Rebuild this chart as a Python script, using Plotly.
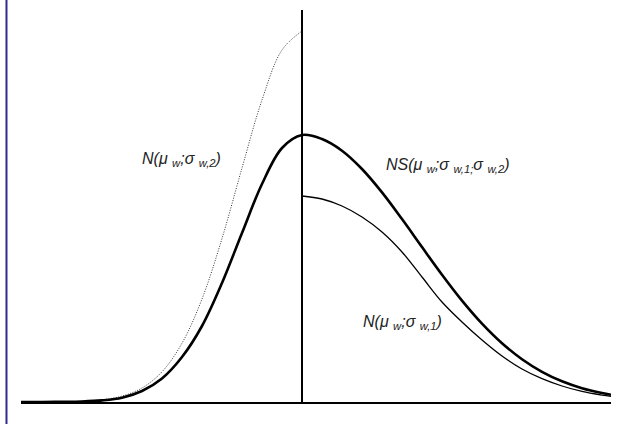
import plotly.graph_objects as go

# split normal sketch: values (x in units, mode at 0)
x_left = [-2.81, -2.6, -2.4, -2.2, -2.0, -1.8, -1.6, -1.4, -1.2, -1.0, -0.8, -0.6, -0.4, -0.2, 0.0]
x_right = [0.0, 0.2, 0.4, 0.6, 0.8, 1.0, 1.2, 1.4, 1.6, 1.8, 2.0, 2.2, 2.4, 2.6, 2.8, 3.0, 3.09]

n_sigma2 = [0.0, 0.0001, 0.0002, 0.0008, 0.0022, 0.0059, 0.0140, 0.0302, 0.0588, 0.1030,
            0.1635, 0.2340, 0.3020, 0.3520, 0.3710]
ns_left = [0.0, 0.00005, 0.0002, 0.0005, 0.0016, 0.0043, 0.0110, 0.0235, 0.0450, 0.0760,
           0.1190, 0.1690, 0.2180, 0.2540, 0.2670]
ns_right = [0.2670, 0.2630, 0.2513, 0.2330, 0.2096, 0.1829, 0.1549, 0.1273, 0.1014, 0.0784,
            0.0588, 0.0428, 0.0302, 0.0207, 0.0138, 0.0089, 0.0072]
n_sigma1 = [0.2060, 0.2030, 0.1960, 0.1850, 0.1700, 0.1500, 0.1250, 0.1000, 0.0800, 0.0620,
            0.0460, 0.0330, 0.0233, 0.0160, 0.0106, 0.0069, 0.0056]

labels = ["N(μ <sub>w</sub>;σ <sub>w,2</sub>)",
          "NS(μ <sub>w</sub>;σ <sub>w,1;</sub>σ <sub>w,2</sub>)",
          "N(μ <sub>w</sub>;σ <sub>w,1</sub>)"]
label_x = [-1.21, 1.46, 1.0]
label_y = [0.243, 0.237, 0.080]

fig = go.Figure()
fig.add_trace(go.Scatter(x=x_left, y=n_sigma2, mode='lines',
                         line=dict(color='#333333', width=1, dash='1px,1.5px', shape='spline')))
fig.add_trace(go.Scatter(x=x_right, y=n_sigma1, mode='lines',
                         line=dict(color='black', width=1.3, shape='spline')))
fig.add_trace(go.Scatter(x=x_left + x_right[1:], y=ns_left + ns_right[1:], mode='lines',
                         line=dict(color='black', width=2.6, shape='spline')))

for t, lx, ly in zip(labels, label_x, label_y):
    fig.add_annotation(x=lx, y=ly, text='<i>' + t + '</i>', showarrow=False,
                       font=dict(family='Liberation Sans, Arial', size=16, color='#222222'))

# the blue frame edge on the left
fig.add_shape(type='line', xref='paper', yref='paper', x0=-0.0246, x1=-0.0246, y0=-0.06, y1=1.03,
              line=dict(color='#2e2a8c', width=2))

fig.update_layout(
    width=632, height=424,
    margin=dict(l=21, r=21, t=10, b=22),
    plot_bgcolor='white', paper_bgcolor='white',
    showlegend=False,
)
fig.update_xaxes(range=[-2.81, 3.09], showgrid=False, showticklabels=False, ticks='',
                 zeroline=True, zerolinecolor='black', zerolinewidth=2,
                 showline=True, linecolor='black', linewidth=2)
fig.update_yaxes(range=[0, 0.392], showgrid=False, showticklabels=False, ticks='',
                 zeroline=False, showline=False)

fig.write_html("out.html", config={'displayModeBar': False},
               post_script="document.body.style.margin='0';")
